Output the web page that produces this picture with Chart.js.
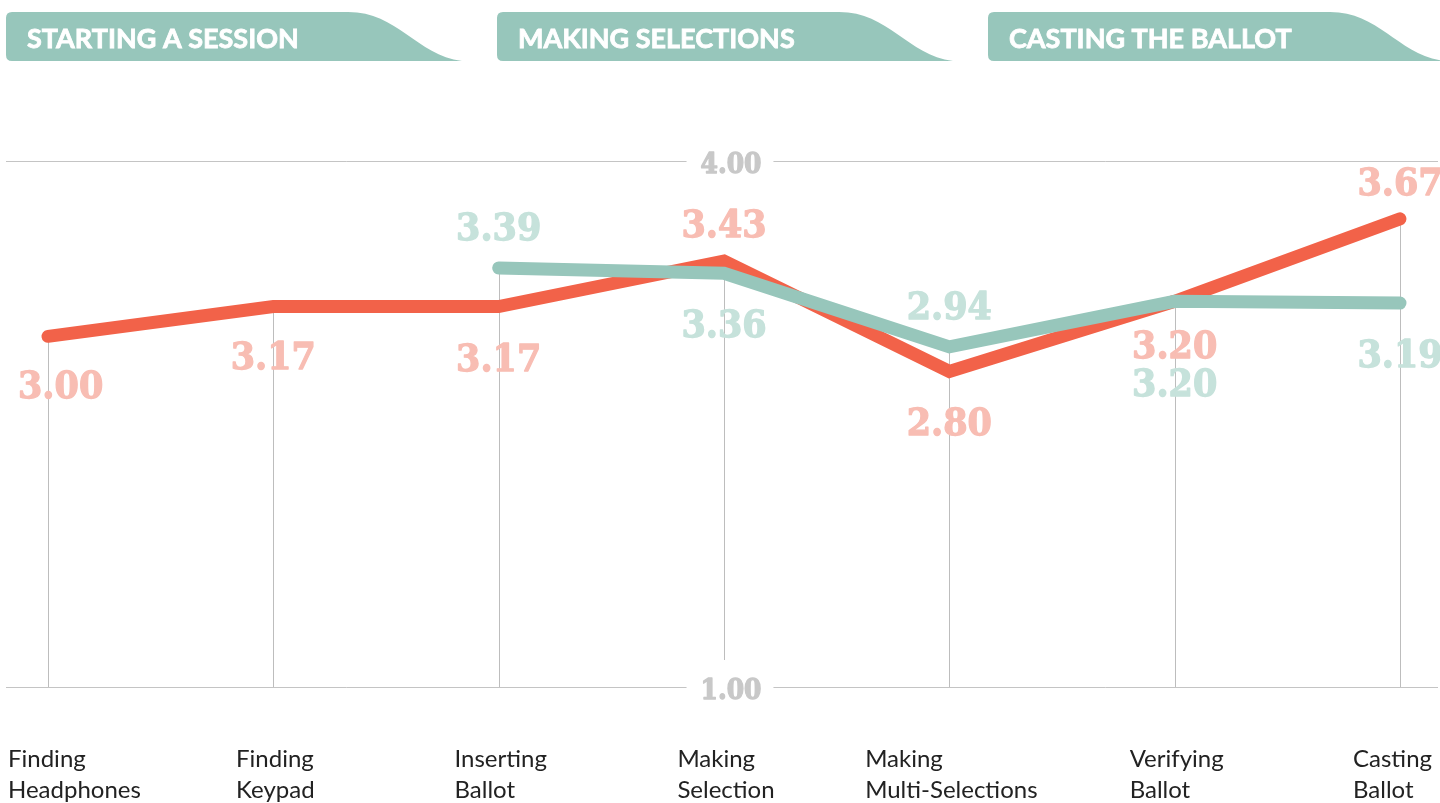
<!DOCTYPE html>
<html>
<head>
<meta charset="utf-8">
<script src="https://cdn.jsdelivr.net/npm/chart.js@4"></script>
<style>
  html, body { margin: 0; padding: 0; background: #ffffff; }
  #wrap { width: 1440px; height: 803px; position: relative; }
</style>
</head>
<body>
<div id="wrap"><canvas id="c" width="1440" height="803"></canvas></div>
<script>
// ---- data ----
const categories = [
  ["Finding", "Headphones"],
  ["Finding", "Keypad"],
  ["Inserting", "Ballot"],
  ["Making", "Selection"],
  ["Making", "Multi-Selections"],
  ["Verifying", "Ballot"],
  ["Casting", "Ballot"]
];
const redValues  = [3.00, 3.17, 3.17, 3.43, 2.80, 3.20, 3.67];
const tealValues = [null, null, 3.39, 3.36, 2.94, 3.20, 3.19];
const sections = ["STARTING A SESSION", "MAKING SELECTIONS", "CASTING THE BALLOT"];
const yTicks = [1, 4];
const yMin = 1, yMax = 4;

// ---- styles ----
const RED = "#f26249", RED_LABEL = "#f8bdb3";
const TEAL = "#97c6bb", TEAL_LABEL = "#c6e2db";
const GRID = "#c4c4c4";

function boldText(ctx, txt, cx, by, color, sy) {
  ctx.save();
  ctx.translate(cx, by);
  ctx.scale(1, sy);
  ctx.fillStyle = color;
  ctx.strokeStyle = color;
  ctx.lineWidth = 1.2;
  ctx.lineJoin = "round";
  ctx.fillText(txt, 0, 0);
  ctx.strokeText(txt, 0, 0);
  ctx.restore();
}

const decorPlugin = {
  id: "decor",
  beforeDatasetsDraw(chart) {
    const ctx = chart.ctx;
    const x = chart.scales.x, y = chart.scales.y;
    ctx.save();
    // horizontal grid lines with centered labels
    ctx.font = "bold 25px 'DejaVu Serif'";
    ctx.textAlign = "center";
    ctx.textBaseline = "alphabetic";
    const labelX = 731;
    yTicks.forEach(t => {
      const py = Math.round(y.getPixelForValue(t)) + 0.5;
      const txt = t.toFixed(2);
      const tw = ctx.measureText(txt).width;
      ctx.strokeStyle = GRID;
      ctx.lineWidth = 1;
      ctx.beginPath();
      ctx.moveTo(6, py); ctx.lineTo(labelX - tw / 2 - 14, py);
      ctx.moveTo(labelX + tw / 2 + 12, py); ctx.lineTo(1438, py);
      ctx.stroke();
      boldText(ctx, txt, labelX, py + 11, "#c8c8c8", 1.1);
    });
    // vertical lines from topmost point down to bottom
    const bottom = y.getPixelForValue(yMin);
    categories.forEach((c, i) => {
      const vals = [redValues[i], tealValues[i]].filter(v => v !== null);
      const top = y.getPixelForValue(Math.max(...vals));
      const px = Math.round(x.getPixelForValue(i)) + 0.5;
      ctx.strokeStyle = "#bdbdbd";
      ctx.lineWidth = 1;
      ctx.beginPath();
      ctx.moveTo(px, top);
      ctx.lineTo(px, i === 3 ? bottom - 27 : bottom);
      ctx.stroke();
    });
    // section header tabs
    const tabW = 456, tabTop = 12, tabBot = 61, step = 491, startX = 6;
    sections.forEach((s, k) => {
      const x0 = startX + k * step;
      ctx.fillStyle = TEAL;
      ctx.beginPath();
      ctx.moveTo(x0 + 6, tabTop);
      ctx.lineTo(x0 + 342, tabTop);
      ctx.bezierCurveTo(x0 + 392, tabTop, x0 + 410, tabBot - 6, x0 + tabW, tabBot);
      ctx.lineTo(x0 + 6, tabBot);
      ctx.quadraticCurveTo(x0, tabBot, x0, tabBot - 6);
      ctx.lineTo(x0, tabTop + 6);
      ctx.quadraticCurveTo(x0, tabTop, x0 + 6, tabTop);
      ctx.closePath();
      ctx.fill();
      ctx.fillStyle = "#ffffff";
      ctx.strokeStyle = "#ffffff";
      ctx.lineWidth = 0.8;
      ctx.font = "bold 27px Lato";
      ctx.textAlign = "left";
      ctx.textBaseline = "alphabetic";
      ctx.fillText(s, x0 + 21, 48);
      ctx.strokeText(s, x0 + 21, 48);
    });
    // category labels
    ctx.font = "24px Lato";
    ctx.fillStyle = "#222222";
    ctx.textAlign = "left";
    ctx.textBaseline = "alphabetic";
    categories.forEach((lines, i) => {
      const px = x.getPixelForValue(i);
      const w = Math.max(...lines.map(l => ctx.measureText(l).width));
      let lx = px - w / 2 + 2;
      if (lx < 8) lx = 8;
      if (lx + w > 1436) lx = 1436 - w - 4;
      lines.forEach((l, j) => ctx.fillText(l, lx, 767 + j * 31));
    });
    ctx.restore();
  },
  afterDatasetsDraw(chart) {
    const ctx = chart.ctx;
    const x = chart.scales.x, y = chart.scales.y;
    ctx.save();
    ctx.font = "bold 35px 'DejaVu Serif'";
    ctx.textAlign = "center";
    ctx.textBaseline = "alphabetic";
    categories.forEach((c, i) => {
      const r = redValues[i], t = tealValues[i];
      const px = x.getPixelForValue(i);
      const items = [];
      if (t === null) {
        items.push({ v: r, col: RED_LABEL, dy: 62 });
      } else if (r > t) {
        items.push({ v: r, col: RED_LABEL, dy: -24 });
        items.push({ v: t, col: TEAL_LABEL, dy: 64 });
      } else if (r < t) {
        items.push({ v: r, col: RED_LABEL, dy: 64 });
        items.push({ v: t, col: TEAL_LABEL, dy: -28 });
      } else {
        items.push({ v: r, col: RED_LABEL, dy: 57 });
        items.push({ v: t, col: TEAL_LABEL, dy: 95 });
      }
      items.forEach(it => {
        const txt = it.v.toFixed(2);
        const tw = ctx.measureText(txt).width;
        let cx = px;
        if (cx - tw / 2 < 18) cx = 18 + tw / 2;
        boldText(ctx, txt, cx, y.getPixelForValue(it.v) + it.dy, it.col, 1.08);
      });
    });
    ctx.restore();
  }
};

new Chart(document.getElementById("c"), {
  type: "line",
  data: {
    labels: categories,
    datasets: [
      {
        label: "Teal",
        data: tealValues,
        borderColor: TEAL,
        borderWidth: 13,
        borderCapStyle: "round",
        borderJoinStyle: "miter",
        pointRadius: 0,
        tension: 0,
        spanGaps: false,
        clip: false,
        order: 0
      },
      {
        label: "Red",
        data: redValues,
        borderColor: RED,
        borderWidth: 13,
        borderCapStyle: "round",
        borderJoinStyle: "miter",
        pointRadius: 0,
        tension: 0,
        clip: false,
        order: 1
      }
    ]
  },
  options: {
    responsive: false,
    animation: false,
    layout: { padding: { left: 48, right: 40, top: 161, bottom: 116 } },
    plugins: { legend: { display: false }, tooltip: { enabled: false } },
    scales: {
      x: { display: false, offset: false },
      y: { display: false, min: yMin, max: yMax }
    }
  },
  plugins: [decorPlugin]
});
</script>
</body>
</html>
